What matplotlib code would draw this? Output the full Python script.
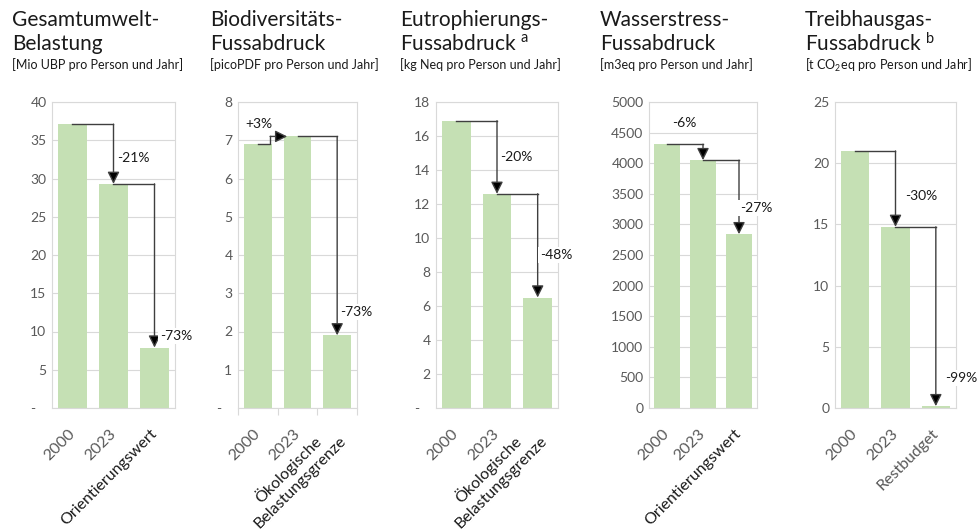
import matplotlib
matplotlib.use("Agg")
import matplotlib.pyplot as plt
import numpy as np

plt.rcParams['font.family'] = ['Lato', 'DejaVu Sans']
plt.rcParams['mathtext.fontset'] = 'custom'
plt.rcParams['mathtext.rm'] = 'Lato'

W, H = 978, 529

# ---- Daten ----
titel_1 = ["Gesamtumwelt-", "Biodiversitäts-", "Eutrophierungs-", "Wasserstress-", "Treibhausgas-"]
titel_2 = ["Belastung", "Fussabdruck", r"Fussabdruck $\mathregular{^{a}}$",
           "Fussabdruck", r"Fussabdruck $\mathregular{^{b}}$"]
einheiten = ["[Mio UBP pro Person und Jahr]", "[picoPDF pro Person und Jahr]",
             "[kg Neq pro Person und Jahr]", "[m3eq pro Person und Jahr]",
             r"[t CO$\mathregular{_2}$eq pro Person und Jahr]"]

kat_gesamt = ["2000", "2023", "Orientierungswert"]
kat_bio = ["2000", "2023", "Ökologische\nBelastungsgrenze"]
kat_eutro = ["2000", "2023", "Ökologische\nBelastungsgrenze"]
kat_wasser = ["2000", "2023", "Orientierungswert"]
kat_thg = ["2000", "2023", "Restbudget"]

werte_gesamt = [37.1, 29.3, 7.9]
werte_bio = [6.9, 7.1, 1.9]
werte_eutro = [16.9, 12.6, 6.5]
werte_wasser = [4310, 4050, 2840]
werte_thg = [21.0, 14.8, 0.15]

aend_gesamt = ["-21%", "-73%"]
aend_bio = ["+3%", "-73%"]
aend_eutro = ["-20%", "-48%"]
aend_wasser = ["-6%", "-27%"]
aend_thg = ["-30%", "-99%"]

y_max = [40, 8, 18, 5000, 25]
y_step = [5, 1, 2, 500, 5]
null_label = ["-", "-", "-", "0", "0"]

# ---- Layout (Pixel) ----
ax_lr = [(52, 175), (238, 357), (436, 558), (649, 757), (835, 956)]
ax_top, ax_bot = 102, 408
titel_x = [12, 210, 400, 600, 805]
label_pos = [
    [(1.085, 32.7), (2.13, 9.4)],
    [(-0.32, 7.42), (2.07, 2.51)],
    [(1.07, 14.76), (2.06, 9.0)],
    [(0.14, 4657), (2.03, 3268)],
    [(1.24, 17.3), (2.23, 2.45)],
]

GRUEN = "#C5E0B4"
GRID = "#D9D9D9"
GRAU = "#595959"

kats = [kat_gesamt, kat_bio, kat_eutro, kat_wasser, kat_thg]
werte = [werte_gesamt, werte_bio, werte_eutro, werte_wasser, werte_thg]
aends = [aend_gesamt, aend_bio, aend_eutro, aend_wasser, aend_thg]

fig = plt.figure(figsize=(W / 100, H / 100), dpi=100)

for p in range(5):
    l, r = ax_lr[p]
    ax = fig.add_axes([l / W, 1 - ax_bot / H, (r - l) / W, (ax_bot - ax_top) / H])
    x = np.arange(len(werte[p]))
    ax.bar(x, werte[p], width=0.7, color=GRUEN, zorder=2)
    ax.set_xlim(-0.5, 2.5)
    ax.set_ylim(0, y_max[p])
    ticks = np.arange(0, y_max[p] + y_step[p] / 2, y_step[p])
    ax.set_yticks(ticks)
    ax.set_yticklabels([null_label[p] + "   " if t == 0 and null_label[p] == "-" else f"{t:g}" for t in ticks])
    ax.grid(axis='y', color=GRID, lw=0.8, zorder=0)
    for s in ax.spines.values():
        s.set_color(GRID)
        s.set_linewidth(0.8)
    ax.tick_params(axis='y', length=0, pad=4, labelsize=10, labelcolor=GRAU)
    ax.set_xticks(x)
    ax.set_xticklabels(kats[p], rotation=45, ha='right', va='center',
                       rotation_mode='anchor', multialignment='center', fontsize=11.5)
    for i, t in enumerate(ax.get_xticklabels()):
        t.set_color(GRAU if i < 2 or p == 4 else "#1a1a1a")
    ax.tick_params(axis='x', length=0, pad=17)
    if p == 1:
        ax.set_xticks([-0.5, 0.5, 1.5, 2.5], minor=True)
        ax.tick_params(axis='x', which='minor', length=5, color=GRID, width=0.8)

    # Verbindungspfeile
    v = werte[p]
    for i in range(2):
        if v[i + 1] > v[i]:
            ax.plot([i, i + 0.31, i + 0.31], [v[i], v[i], v[i + 1]], color="#3f3f3f", lw=1, zorder=3)
            start, ende = (i + 0.31, v[i + 1]), (i + 0.74, v[i + 1])
        else:
            ax.plot([i, i + 1], [v[i], v[i]], color="#3f3f3f", lw=1, zorder=3)
            start, ende = (i + 1, v[i]), (i + 1, v[i + 1])
        ax.annotate("", xy=ende, xytext=start,
                    arrowprops=dict(arrowstyle='-|>,head_length=0.6,head_width=0.3',
                                    color="#3f3f3f", fc="black", lw=1,
                                    mutation_scale=12, shrinkA=0, shrinkB=0),
                    zorder=4)
        lx, ly = label_pos[p][i]
        ax.text(lx, ly, aends[p][i], ha='left', va='center', fontsize=10, color="#1a1a1a",
                bbox=dict(boxstyle='square,pad=0.15', fc='white', ec='none'), zorder=5)

    # Titel
    tx = titel_x[p] / W
    fig.text(tx, 1 - 20 / H, titel_1[p], fontsize=15, color="#1a1a1a", va='center', ha='left')
    fig.text(tx, 1 - 44 / H, titel_2[p], fontsize=15, color="#1a1a1a", va='center', ha='left')
    fig.text(tx, 1 - 65 / H, einheiten[p], fontsize=9, color="#1a1a1a", va='center', ha='left')

fig.savefig("out.png", dpi=100)
